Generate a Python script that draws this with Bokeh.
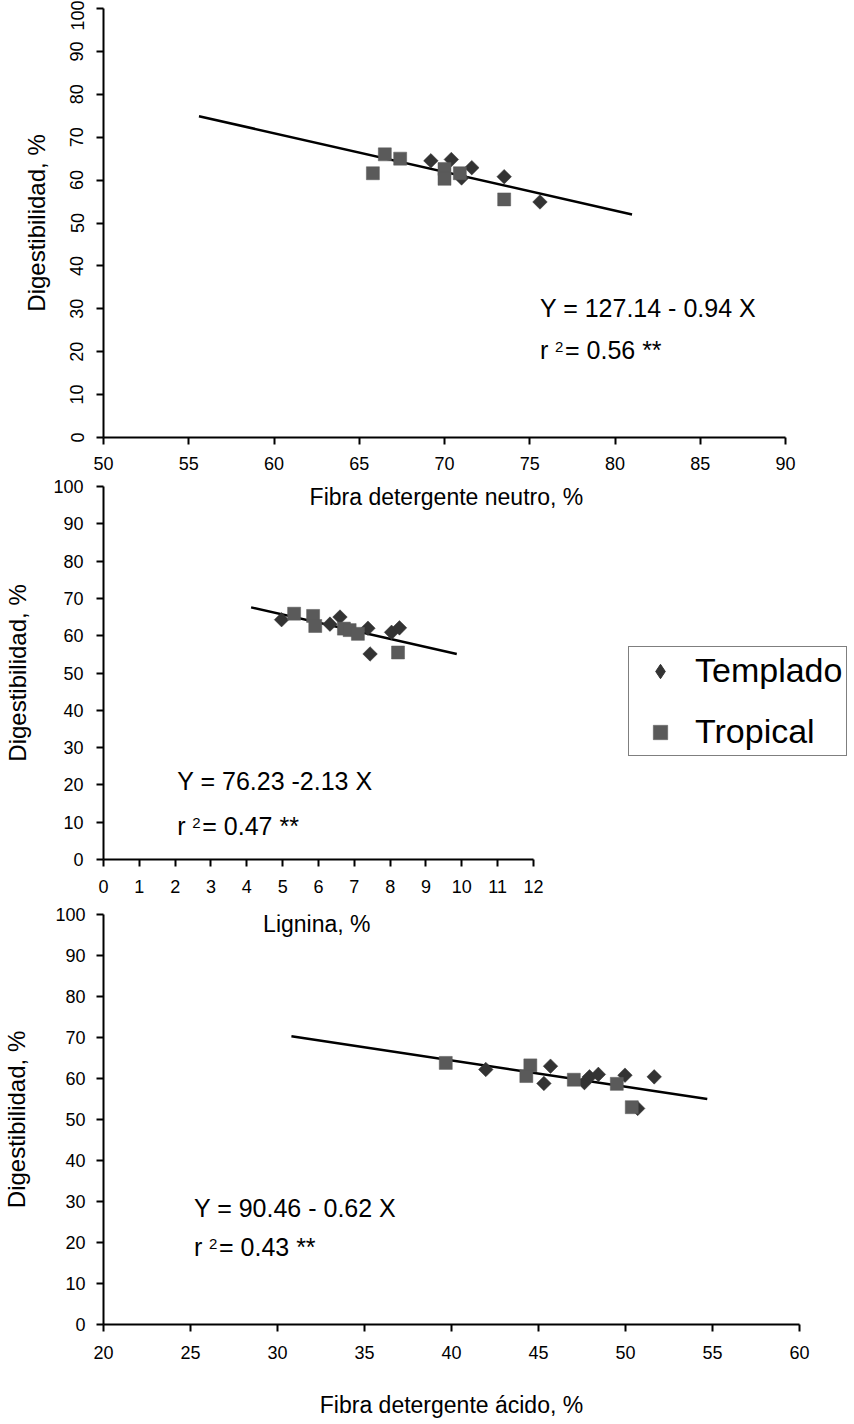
import math
from bokeh.plotting import figure
from bokeh.models import Range1d, Label, Legend, LegendItem, FixedTicker
from bokeh.layouts import column
from bokeh.embed import file_html
from bokeh.resources import INLINE

FONT = "Liberation Sans"

# ---------------- data ----------------
y_title = "Digestibilidad, %"
dig_ticks = [0, 10, 20, 30, 40, 50, 60, 70, 80, 90, 100]
series_names = ["Templado", "Tropical"]

# Panel 1: Fibra detergente neutro
fdn_title = "Fibra detergente neutro, %"
fdn_ticks = [50, 55, 60, 65, 70, 75, 80, 85, 90]
fdn_templado_x = [69.2, 70.4, 71.0, 71.6, 73.5, 75.6]
fdn_templado_y = [64.5, 64.8, 60.5, 62.9, 60.8, 54.9]
fdn_tropical_x = [65.8, 66.5, 67.4, 70.0, 70.0, 70.9, 73.5]
fdn_tropical_y = [61.6, 66.0, 65.0, 62.6, 60.3, 61.6, 55.5]
fdn_line_x = [55.6, 81.0]
fdn_line_y = [74.9, 52.0]
fdn_eq = "Y = 127.14 - 0.94 X"
fdn_r2 = "0.56 **"

# Panel 2: Lignina
lig_title = "Lignina, %"
lig_ticks = [0, 1, 2, 3, 4, 5, 6, 7, 8, 9, 10, 11, 12]
lig_templado_x = [4.97, 6.32, 6.60, 7.38, 7.44, 8.04, 8.26]
lig_templado_y = [64.3, 63.1, 65.0, 62.0, 55.1, 60.9, 62.1]
lig_tropical_x = [5.32, 5.85, 5.91, 6.71, 6.87, 7.10, 8.22]
lig_tropical_y = [65.9, 65.3, 62.6, 61.9, 61.5, 60.5, 55.5]
lig_line_x = [4.12, 9.86]
lig_line_y = [67.6, 55.1]
lig_eq = "Y = 76.23  -2.13 X"
lig_r2 = "0.47 **"

# Panel 3: Fibra detergente acido
fda_title = "Fibra detergente ácido, %"
fda_ticks = [20, 25, 30, 35, 40, 45, 50, 55, 60]
fda_templado_x = [41.97, 45.69, 45.31, 47.64, 47.93, 48.44, 49.97, 51.65, 50.70]
fda_templado_y = [62.2, 63.0, 58.8, 59.0, 60.4, 61.0, 60.8, 60.4, 52.7]
fda_tropical_x = [39.67, 44.53, 44.30, 47.03, 49.50, 50.36]
fda_tropical_y = [63.8, 63.2, 60.6, 59.7, 58.7, 53.0]
fda_line_x = [30.8, 54.7]
fda_line_y = [70.3, 55.0]
fda_eq = "Y = 90.46  - 0.62 X"
fda_r2 = "0.43 **"

# ---------------- style ----------------
C_TEMP = "#333333"
C_TROP = "#5a5a5a"
TICK_FS = "18px"
XTITLE_FS = "23px"
YTITLE_FS = "24px"
EQ_FS = "25px"


def make_fig(height, xr, xticks, bl, br, bt, bb):
    p = figure(width=854, height=height, x_range=Range1d(*xr), y_range=Range1d(0, 100),
               output_backend="svg", toolbar_location=None, title=None,
               min_border_left=bl, min_border_right=br, min_border_top=bt, min_border_bottom=bb)
    p.frame_align = False
    p.outline_line_color = None
    p.xgrid.visible = False
    p.ygrid.visible = False
    p.background_fill_color = "white"
    p.border_fill_color = "white"
    p.xaxis.ticker = FixedTicker(ticks=xticks)
    p.yaxis.ticker = FixedTicker(ticks=dig_ticks)
    for ax in (p.xaxis[0], p.yaxis[0]):
        ax.axis_line_width = 2
        ax.axis_line_color = "black"
        ax.major_tick_line_width = 2
        ax.major_tick_line_color = "black"
        ax.major_tick_in = 0
        ax.major_tick_out = 7
        ax.minor_tick_line_color = None
        ax.major_label_text_font = FONT
        ax.major_label_text_font_size = TICK_FS
        ax.major_label_text_color = "black"
        ax.axis_label_text_font = FONT
        ax.axis_label_text_font_style = "normal"
        ax.axis_label_text_color = "black"
    p.xaxis.axis_label_text_font_size = XTITLE_FS
    p.yaxis.axis_label_text_font_size = YTITLE_FS
    p.yaxis.axis_label = y_title
    return p


def add_points(p, tx, ty, rx, ry, lx, ly):
    p.line(lx, ly, line_color="black", line_width=2.5)
    rt = p.scatter(tx, ty, marker="square", angle=math.pi / 4, size=10.3,
                   fill_color=C_TEMP, line_color=C_TEMP, line_width=0.5)
    rr = p.scatter(rx, ry, marker="square", size=13,
                   fill_color=C_TROP, line_color=C_TROP, line_width=0.5)
    return rt, rr


def add_equation(p, x, y1, y2, ppu, eq, r2):
    kw = dict(text_font=FONT, text_color="black", text_align="left", text_baseline="middle")
    p.add_layout(Label(x=x, y=y1, text=eq, text_font_size=EQ_FS, **kw))
    p.add_layout(Label(x=x, y=y2, text="r", text_font_size=EQ_FS, **kw))
    p.add_layout(Label(x=x, y=y2 + 3.0 / ppu, x_offset=15, text="2", text_font_size="15px", **kw))
    p.add_layout(Label(x=x, y=y2, x_offset=25, text="= " + r2, text_font_size=EQ_FS, **kw))


# ---------------- panel 1 ----------------
p1 = make_fig(477, (50, 90), fdn_ticks, 103, 69, 8, 40)
p1.xaxis.major_label_standoff = 12
p1.yaxis.major_label_orientation = "parallel"
p1.yaxis.major_label_standoff = 13
p1.yaxis.axis_label_standoff = 18
add_points(p1, fdn_templado_x, fdn_templado_y, fdn_tropical_x, fdn_tropical_y, fdn_line_x, fdn_line_y)
add_equation(p1, 75.6, 30.1, 20.3, 4.29, fdn_eq, fdn_r2)

# ---------------- panel 2 ----------------
# frame reaches the right edge so the legend and the panel-1 axis title fit inside it;
# the x axis itself is limited to 0..12 with bounds
p2 = make_fig(423, (0, 20.96), lig_ticks, 103, 0, 9, 41)
p2.xaxis.bounds = (0, 12)
p2.xaxis.major_label_standoff = 13
p2.yaxis.major_label_standoff = 13
p2.yaxis.axis_label_standoff = 19
rt2, rr2 = add_points(p2, lig_templado_x, lig_templado_y, lig_tropical_x, lig_tropical_y, lig_line_x, lig_line_y)
# legend-only twin of the Templado series, drawn with a diamond marker
rt2_key = p2.scatter(lig_templado_x, lig_templado_y, marker="diamond", size=14,
                     fill_color=C_TEMP, line_color=C_TEMP, visible=False)
add_equation(p2, 2.06, 21.05, 9.1, 3.73, lig_eq, lig_r2)
p2.add_layout(Label(x=9.57, y=97.3, text=fdn_title, text_align="center", text_baseline="middle",
                    text_font=FONT, text_font_size=XTITLE_FS, text_color="black"))
legend = Legend(items=[LegendItem(label=series_names[0], renderers=[rt2_key]),
                       LegendItem(label=series_names[1], renderers=[rr2])],
                location=(525, 103))
legend.label_text_font = FONT
legend.label_text_font_size = "34px"
legend.label_text_color = "black"
legend.padding = 4
legend.spacing = 22
legend.glyph_width = 54
legend.glyph_height = 36
legend.label_standoff = 8
legend.margin = 0
legend.border_line_color = "black"
legend.border_line_width = 1.5
legend.background_fill_color = "white"
legend.background_fill_alpha = 1.0
legend.inactive_fill_alpha = 0.0
p2.add_layout(legend, "center")

# ---------------- panel 3 ----------------
p3 = make_fig(522, (20, 60), fda_ticks, 101, 55, 14, 98)
p3.xaxis.major_label_standoff = 14
p3.xaxis.axis_label = fda_title
p3.xaxis.axis_label_standoff = 30
p3.yaxis.major_label_standoff = 11
p3.yaxis.axis_label_standoff = 22
add_points(p3, fda_templado_x, fda_templado_y, fda_tropical_x, fda_tropical_y, fda_line_x, fda_line_y)
add_equation(p3, 25.2, 28.5, 18.8, 4.10, fda_eq, fda_r2)
p3.add_layout(Label(x=32.26, y=97.8, text=lig_title, text_align="center", text_baseline="middle",
                    text_font=FONT, text_font_size=XTITLE_FS, text_color="black"))

layout = column(p1, p2, p3, spacing=0)
open("out.html", "w").write(file_html(layout, INLINE))
